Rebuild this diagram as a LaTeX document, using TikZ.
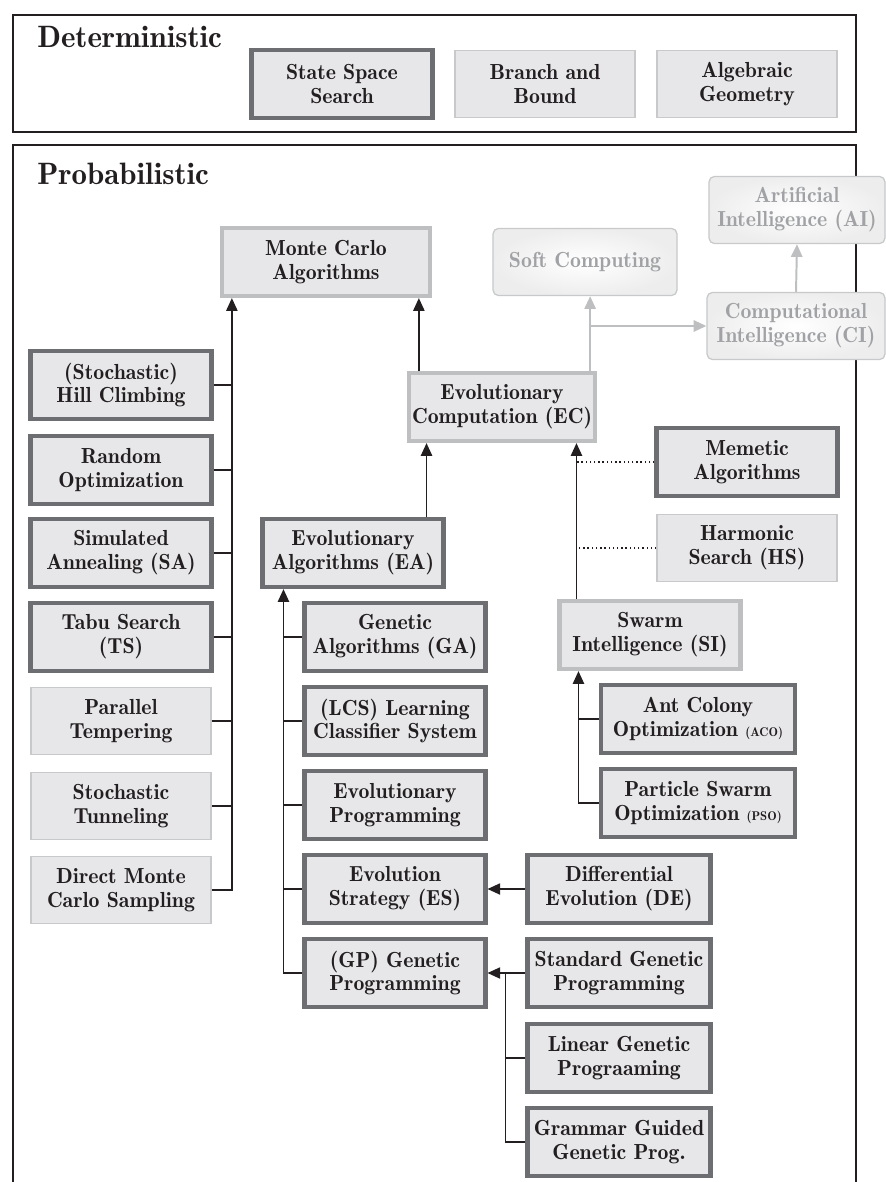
\documentclass[tikz,border=0pt]{standalone}
\usepackage{tikz}
\usetikzlibrary{arrows.meta,positioning,calc}
\definecolor{mbdark}{RGB}{109,110,113}
\definecolor{mblight}{RGB}{190,191,193}
\definecolor{mbthin}{RGB}{200,201,203}
\definecolor{mbfill}{RGB}{231,231,233}
\definecolor{mbtext}{RGB}{35,31,32}
\definecolor{mbgray}{RGB}{160,162,165}
\newcommand\boxfont{\fontsize{15.5}{17}\fontseries{b}\selectfont}
\newcommand\headfont{\fontsize{22}{26}\fontseries{b}\selectfont}
\tikzstyle{darkbox} = [rectangle, minimum width=4.52cm, minimum height=1.7cm, align=center, draw=mbdark, fill=mbfill, line width=3pt, text=mbtext, font=\boxfont, inner sep=1pt]
\tikzstyle{lightbox} = [darkbox, draw=mblight]
\tikzstyle{thinbox} = [darkbox, draw=mbthin, line width=0.9pt, minimum width=4.5cm, minimum height=1.68cm]
\tikzstyle{softbox} = [thinbox, rounded corners=4pt, text=mbgray, shading=radial, inner color=white, outer color=black!7]
\tikzstyle{frame} = [line width=1pt, color=mbtext]
\tikzstyle{arrow} = [line width=1pt, color=mbtext, -{Triangle[length=9pt,width=8pt]}]
\tikzstyle{link} = [line width=1pt, color=mbtext]
\tikzstyle{grayarrow} = [line width=1.4pt, color=mblight, -{Triangle[length=9pt,width=8pt]}]

\begin{document}
\begin{tikzpicture}[x=0.025cm, y=-0.025cm]
\useasboundingbox (0,0) rectangle (886,1182);
% Deterministic
\draw[frame] (13,15) rectangle (856,132);
\node[anchor=base west, font=\headfont, text=mbtext, inner sep=0pt] (dettitle) at (37,48) {Deterministic};
\node[darkbox] (sss) at (342,84) {State Space\\Search};
\node[thinbox] (bab) at (545,84) {Branch and\\Bound};
\node[thinbox] (alg) at (747,84) {Algebraic\\Geometry};

% Probabilistic
\draw[frame] (13,1182) -- (13,145) -- (856,145) -- (856,1182);
\node[anchor=base west, font=\headfont, text=mbtext, inner sep=0pt] (probtitle) at (37,184) {Probabilistic};

% top row
\node[lightbox, minimum width=5.2cm] (mc) at (326,262) {Monte Carlo\\Algorithms};
\node[softbox, minimum width=4.6cm] (soft) at (585,262) {Soft Computing};
\node[softbox, minimum width=4.4cm] (ai) at (797,210) {Artificial\\Intelligence (AI)};
\node[softbox, minimum width=4.45cm] (ci) at (796,326) {Computational\\Intelligence (CI)};
\node[lightbox, minimum width=4.65cm] (ec) at (502,407) {Evolutionary\\Computation (EC)};

% left column
\node[darkbox] (hill) at (121,385) {(Stochastic)\\Hill Climbing};
\node[darkbox] (random) at (121,470) {Random\\Optimization};
\node[darkbox] (sa) at (121,553) {Simulated\\Annealing (SA)};
\node[darkbox] (ts) at (121,637) {Tabu Search\\(TS)};
\node[thinbox] (pt) at (121,721) {Parallel\\Tempering};
\node[thinbox] (tunnel) at (121,806) {Stochastic\\Tunneling};
\node[thinbox] (direct) at (121,890) {Direct Monte\\Carlo Sampling};

% evolutionary algorithms
\node[darkbox] (ea) at (353,553) {Evolutionary\\Algorithms (EA)};
\node[darkbox] (ga) at (395,637) {Genetic\\Algorithms (GA)};
\node[darkbox] (lcs) at (395,721) {(LCS) Learning\\Classifier System};
\node[darkbox] (ep) at (395,805) {Evolutionary\\Programming};
\node[darkbox] (es) at (395,889) {Evolution\\Strategy (ES)};
\node[darkbox] (gp) at (395,973) {(GP) Genetic\\Programming};
\node[darkbox, minimum width=4.57cm] (de) at (619,889) {Differential\\Evolution (DE)};
\node[darkbox, minimum width=4.57cm] (sgp) at (619,973) {Standard Genetic\\Programming};
\node[darkbox, minimum width=4.57cm] (lgp) at (619,1058) {Linear Genetic\\Prograaming};
\node[darkbox, minimum width=4.57cm] (ggp) at (619,1142) {Grammar Guided\\Genetic Prog.};

% swarm and others
\node[darkbox] (memetic) at (747,462) {Memetic\\Algorithms};
\node[thinbox] (hs) at (747,548) {Harmonic\\Search (HS)};
\node[lightbox] (si) at (650,635) {Swarm\\Intelligence (SI)};
\node[darkbox, minimum width=4.85cm] (aco) at (698,719) {Ant Colony\\Optimization {\small(ACO)}};
\node[darkbox, minimum width=4.85cm] (pso) at (698,803) {Particle Swarm\\Optimization {\small(PSO)}};

% connectors
\coordinate (mcin) at ([xshift=0.3cm]mc.south west);
\draw[arrow] (direct.east) -| (mcin);
\foreach \n in {hill,random,sa,ts,pt,tunnel}
  \draw[link] (\n.east) -- (\n.east -| mcin);

\coordinate (ecup) at ([xshift=0.3cm]ec.north west);
\draw[arrow] (ecup) -- (ecup |- mc.south);
\coordinate (ecsoft) at ([xshift=-0.175cm]ec.north east);
\draw[grayarrow] (ecsoft) -- (ecsoft |- soft.south);
\draw[grayarrow] (ecsoft |- ci.west) -- (ci.west);
\draw[grayarrow] (ci.north) -- (ai.south);

\coordinate (eaup) at ([xshift=-0.475cm]ea.north east);
\draw[arrow] (eaup) -- (eaup |- ec.south);
\coordinate (siup) at ([xshift=0.475cm]si.north west);
\draw[arrow] (siup) -- (siup |- ec.south);
\draw[link, dotted] (memetic.west) -- (memetic.west -| siup);
\draw[link, dotted] (hs.west) -- (hs.west -| siup);

\coordinate (eain) at ([xshift=0.575cm]ea.south west);
\draw[arrow] (gp.west) -| (eain);
\foreach \n in {ga,lcs,ep,es}
  \draw[link] (\n.west) -- (\n.west -| eain);
\draw[arrow] (de) -- (es);

\coordinate (gpin) at ([xshift=0.45cm]gp.east);
\draw[arrow] (sgp) -- (gp);
\draw[link] (ggp.west) -| (gpin);
\draw[link] (lgp.west) -- (lgp.west -| gpin);

\coordinate (siin) at ([xshift=0.525cm]si.south west);
\draw[arrow] (pso.west) -| (siin);
\draw[link] (aco.west) -- (aco.west -| siin);
\end{tikzpicture}
\end{document}
